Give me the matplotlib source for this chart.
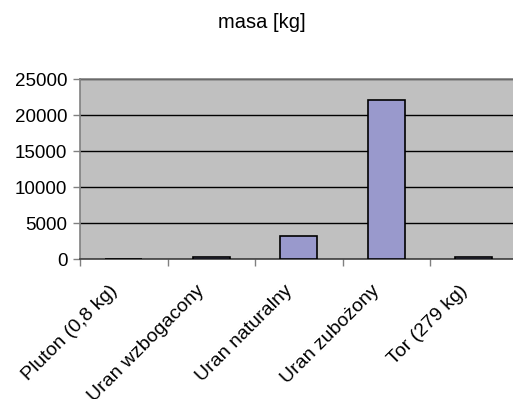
import matplotlib.pyplot as plt
import matplotlib.transforms as mtransforms
import numpy as np

categories = ["Pluton (0,8 kg)", "Uran wzbogacony", "Uran naturalny",
              "Uran zubożony", "Tor (279 kg)"]
masa = [0.8, 250, 3200, 22100, 279]

plt.rcParams["font.family"] = ["Liberation Sans", "DejaVu Sans"]
plt.rcParams["font.size"] = 13.5

fig = plt.figure(figsize=(5.13, 3.99), dpi=100)
ax = fig.add_axes([80 / 513, 1 - 259 / 399, 437.5 / 513, 180 / 399])

x = np.arange(len(categories))
ax.bar(x, masa, width=0.42, color="#9999cc", edgecolor="black",
       linewidth=1.2, zorder=3)

ax.set_xlim(-0.5, len(categories) - 0.5)
ax.set_ylim(0, 25000)
ax.set_yticks(np.arange(0, 25001, 5000))
ax.set_facecolor("#c0c0c0")
ax.grid(axis="y", color="black", linewidth=1, zorder=1)

# labels in the middle of each category, tick marks on the boundaries
ax.set_xticks(x)
ax.set_xticklabels(categories, rotation=45, ha="right", va="center",
                   rotation_mode="anchor", fontsize=14)
ax.tick_params(axis="x", which="major", length=0, pad=21)
shift = mtransforms.ScaledTranslation(-9 / 100, 0, fig.dpi_scale_trans)
for lab in ax.get_xticklabels():
    lab.set_transform(lab.get_transform() + shift)
ax.set_xticks(np.arange(-0.5, len(categories)), minor=True)
ax.tick_params(axis="x", which="minor", length=5, color="#808080", width=1)
ax.tick_params(axis="y", length=5, color="#808080", width=1, pad=4)

for side in ["top", "left", "right"]:
    ax.spines[side].set_color("#808080")
    ax.spines[side].set_linewidth(1.2)
ax.spines["bottom"].set_color("#404040")
ax.spines["bottom"].set_linewidth(1.2)

fig.text(262 / 513, 1 - 22 / 399, "masa [kg]", ha="center", va="center",
         fontsize=14.5)

fig.savefig("out.png", dpi=100, facecolor="white")
